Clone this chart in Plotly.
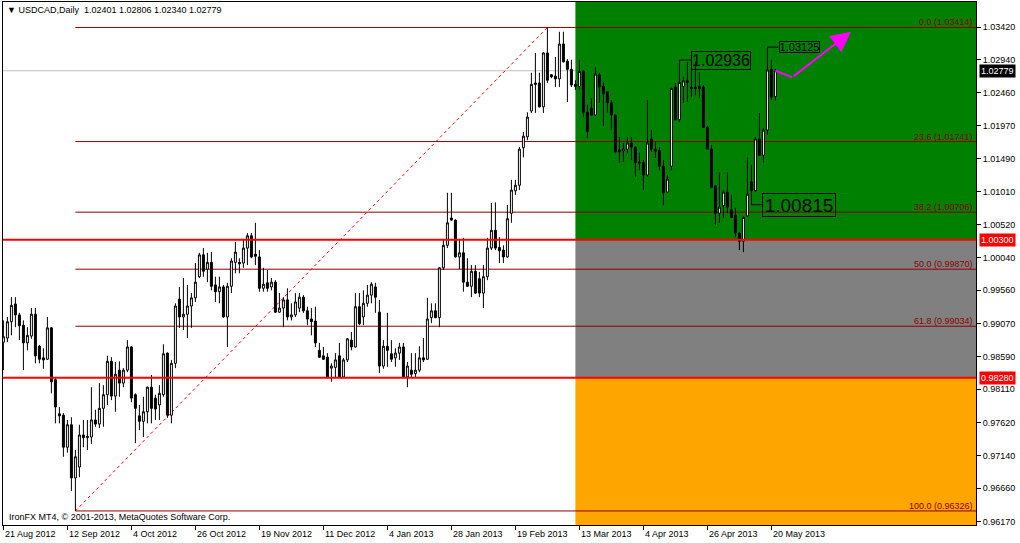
import plotly.graph_objects as go

# ---------------- data ----------------
open_ = [
    0.9880, 0.9886, 0.9910, 0.9936, 0.9920, 0.9905, 0.9879, 0.9889, 0.9921, 0.9874,
    0.9857, 0.9855, 0.9901, 0.9825, 0.9775, 0.9773, 0.9726, 0.9759, 0.9681, 0.9697,
    0.9744, 0.9740, 0.9741, 0.9766, 0.9760, 0.9783, 0.9803, 0.9852, 0.9801, 0.9839,
    0.9820, 0.9839, 0.9873, 0.9803, 0.9772, 0.9764, 0.9778, 0.9814, 0.9798, 0.9788,
    0.9803, 0.9864, 0.9773, 0.9849, 0.9943, 0.9917, 0.9921, 0.9933, 0.9945, 0.9976,
    1.0008, 0.9987, 0.9997, 0.9964, 0.9954, 0.9961, 0.9917, 0.9962, 0.9997, 0.9997,
    0.9996, 1.0018, 1.0036, 1.0009, 1.0005, 0.9959, 0.9967, 0.9961, 0.9968, 0.9924,
    0.9930, 0.9942, 0.9917, 0.9920, 0.9930, 0.9946, 0.9926, 0.9914, 0.9911, 0.9868,
    0.9860, 0.9858, 0.9842, 0.9843, 0.9860, 0.9829, 0.9854, 0.9883, 0.9873, 0.9932,
    0.9917, 0.9937, 0.9949, 0.9961, 0.9924, 0.9845, 0.9874, 0.9863, 0.9857, 0.9864,
    0.9873, 0.9829, 0.9839, 0.9834, 0.9839, 0.9857, 0.9855, 0.9916, 0.9926, 0.9916,
    0.9989, 1.0022, 1.0062, 1.0059, 1.0005, 1.0011, 0.9968, 0.9962, 0.9984, 0.9973,
    0.9952, 0.9976, 1.0018, 1.0044, 1.0019, 1.0015, 1.0005, 1.0069, 1.0102, 1.0110,
    1.0165, 1.0181, 1.0219, 1.0260, 1.0260, 1.0225, 1.0304, 1.0272, 1.0270, 1.0266,
    1.0317, 1.0292, 1.0280, 1.0258, 1.0255, 1.0277, 1.0217, 1.0223, 1.0213, 1.0272,
    1.0255, 1.0247, 1.0231, 1.0213, 1.0162, 1.0160, 1.0163, 1.0172, 1.0166, 1.0144,
    1.0143, 1.0125, 1.0178, 1.0163, 1.0161, 1.0138, 1.0100, 1.0138, 1.0254, 1.0206,
    1.0255, 1.0263, 1.0254, 1.0254, 1.0255, 1.0254, 1.0195, 1.0163, 1.0109, 1.0069,
    1.0080, 1.0100, 1.0074, 1.0066, 1.0040, 1.0028, 1.0065, 1.0115, 1.0102, 1.0178,
    1.0154, 1.0191, 1.0280, 1.02401,
]
high = [
    0.9912, 0.9917, 0.9946, 0.9946, 0.9923, 0.9912, 0.9902, 0.9930, 0.9930, 0.9876,
    0.9871, 0.9917, 0.9902, 0.9829, 0.9785, 0.9776, 0.9766, 0.9770, 0.9722, 0.9759,
    0.9766, 0.9766, 0.9814, 0.9781, 0.9820, 0.9817, 0.9860, 0.9858, 0.9851, 0.9852,
    0.9842, 0.9883, 0.9874, 0.9805, 0.9788, 0.9800, 0.9815, 0.9832, 0.9803, 0.9817,
    0.9877, 0.9865, 0.9854, 0.9937, 0.9961, 0.9974, 0.9964, 0.9952, 0.9996, 1.0011,
    1.0018, 1.0011, 1.0012, 0.9976, 0.9976, 0.9964, 0.9967, 1.0003, 1.0027, 1.0003,
    1.0030, 1.0040, 1.0040, 1.0055, 1.0015, 0.9989, 0.9986, 0.9974, 0.9971, 0.9952,
    0.9946, 0.9959, 0.9937, 0.9952, 0.9952, 0.9949, 0.9932, 0.9930, 0.9932, 0.9879,
    0.9873, 0.9864, 0.9849, 0.9864, 0.9879, 0.9857, 0.9886, 0.9895, 0.9952, 0.9952,
    0.9956, 0.9964, 0.9968, 0.9967, 0.9942, 0.9883, 0.9923, 0.9883, 0.9871, 0.9879,
    0.9879, 0.9851, 0.9864, 0.9864, 0.9874, 0.9886, 0.9945, 0.9937, 0.9937, 0.9990,
    1.0030, 1.0099, 1.0099, 1.0060, 1.0030, 1.0033, 1.0003, 0.9993, 0.9993, 0.9983,
    0.9993, 1.0033, 1.0084, 1.0085, 1.0034, 1.0022, 1.0081, 1.0118, 1.0118, 1.0166,
    1.0188, 1.0217, 1.0275, 1.0304, 1.0275, 1.0305, 1.0341, 1.0273, 1.0298, 1.0335,
    1.0335, 1.0295, 1.0294, 1.0264, 1.0294, 1.0279, 1.0228, 1.0238, 1.0283, 1.0275,
    1.0261, 1.0247, 1.0235, 1.0214, 1.0181, 1.0172, 1.0181, 1.0181, 1.0167, 1.0158,
    1.0147, 1.0235, 1.0191, 1.0173, 1.0166, 1.0147, 1.0125, 1.0253, 1.0260, 1.02936,
    1.0269, 1.0291, 1.0289, 1.0291, 1.0276, 1.0257, 1.0197, 1.0169, 1.0110, 1.0129,
    1.0103, 1.0129, 1.0096, 1.0077, 1.0041, 1.0064, 1.0151, 1.0140, 1.0181, 1.0216,
    1.0194, 1.03125, 1.0294, 1.02806,
]
low = [
    0.9839, 0.9880, 0.9890, 0.9902, 0.9883, 0.9839, 0.9868, 0.9885, 0.9849, 0.9849,
    0.9841, 0.9854, 0.9805, 0.9761, 0.9761, 0.9712, 0.9718, 0.9662, 0.96326, 0.9682,
    0.9726, 0.9722, 0.9731, 0.9756, 0.9754, 0.9756, 0.9788, 0.9795, 0.9778, 0.9800,
    0.9814, 0.9836, 0.9792, 0.9732, 0.9751, 0.9741, 0.9761, 0.9761, 0.9766, 0.9766,
    0.9800, 0.9769, 0.9761, 0.9842, 0.9901, 0.9898, 0.9886, 0.9901, 0.9939, 0.9974,
    0.9976, 0.9968, 0.9956, 0.9939, 0.9937, 0.9916, 0.9873, 0.9952, 0.9981, 0.9981,
    0.9989, 0.9993, 1.0003, 0.9993, 0.9954, 0.9954, 0.9954, 0.9956, 0.9923, 0.9923,
    0.9902, 0.9912, 0.9912, 0.9917, 0.9924, 0.9923, 0.9905, 0.9890, 0.9873, 0.9857,
    0.9854, 0.9827, 0.9822, 0.9829, 0.9828, 0.9828, 0.9851, 0.9868, 0.9872, 0.9905,
    0.9905, 0.9932, 0.9937, 0.9923, 0.9835, 0.9841, 0.9844, 0.9851, 0.9844, 0.9854,
    0.9828, 0.9814, 0.9829, 0.9829, 0.9836, 0.9851, 0.9854, 0.9908, 0.9915, 0.9902,
    0.9986, 1.0018, 1.0058, 1.0004, 0.9987, 0.9954, 0.9961, 0.9946, 0.9951, 0.9946,
    0.9930, 0.9971, 1.0015, 1.0015, 0.9996, 0.9996, 1.0004, 1.0055, 1.0096, 1.0103,
    1.0151, 1.0176, 1.0216, 1.0216, 1.0224, 1.0216, 1.0260, 1.0267, 1.0254, 1.0254,
    1.0290, 1.0232, 1.0254, 1.0250, 1.0250, 1.0210, 1.0179, 1.0212, 1.0212, 1.0231,
    1.0197, 1.0217, 1.0191, 1.0157, 1.0143, 1.0144, 1.0157, 1.0147, 1.0122, 1.0132,
    1.0103, 1.0122, 1.0159, 1.0150, 1.0132, 1.0081, 1.0099, 1.0132, 1.0205, 1.0203,
    1.0231, 1.0232, 1.0239, 1.0242, 1.0238, 1.0194, 1.0162, 1.0106, 1.0052, 1.0055,
    1.0062, 1.0069, 1.0062, 1.0034, 1.0015, 1.0012, 1.0064, 1.0101, 1.0101, 1.0153,
    1.0143, 1.0184, 1.0235, 1.02340,
]
close = [
    0.9888, 0.9910, 0.9934, 0.9920, 0.9904, 0.9879, 0.9890, 0.9921, 0.9860, 0.9855,
    0.9854, 0.9901, 0.9822, 0.9785, 0.9772, 0.9726, 0.9759, 0.9681, 0.9712, 0.9744,
    0.9740, 0.9742, 0.9766, 0.9760, 0.9783, 0.9803, 0.9852, 0.9801, 0.9833, 0.9820,
    0.9839, 0.9873, 0.9798, 0.9783, 0.9764, 0.9778, 0.9814, 0.9783, 0.9782, 0.9805,
    0.9863, 0.9773, 0.9849, 0.9933, 0.9917, 0.9921, 0.9933, 0.9945, 0.9968, 1.0008,
    0.9984, 0.9997, 0.9962, 0.9954, 0.9961, 0.9917, 0.9962, 0.9999, 1.0012, 0.9995,
    1.0018, 1.0036, 1.0005, 1.0006, 0.9959, 0.9965, 0.9959, 0.9968, 0.9924, 0.9930,
    0.9942, 0.9917, 0.9920, 0.9939, 0.9946, 0.9926, 0.9914, 0.9910, 0.9879, 0.9858,
    0.9855, 0.9829, 0.9845, 0.9854, 0.9829, 0.9854, 0.9885, 0.9873, 0.9932, 0.9907,
    0.9937, 0.9949, 0.9965, 0.9946, 0.9845, 0.9874, 0.9868, 0.9855, 0.9864, 0.9873,
    0.9829, 0.9845, 0.9833, 0.9839, 0.9857, 0.9854, 0.9914, 0.9926, 0.9916, 0.9989,
    1.0022, 1.0055, 1.0059, 1.0005, 1.0011, 0.9968, 0.9962, 0.9984, 0.9952, 0.9952,
    0.9976, 1.0018, 1.0044, 1.0018, 1.0014, 1.0005, 1.0061, 1.0103, 1.0110, 1.0163,
    1.0182, 1.0210, 1.0258, 1.0258, 1.0225, 1.0304, 1.0264, 1.0269, 1.0266, 1.0317,
    1.0291, 1.0280, 1.0257, 1.0255, 1.0277, 1.0217, 1.0189, 1.0213, 1.0273, 1.0254,
    1.0244, 1.0231, 1.0213, 1.0159, 1.0159, 1.0163, 1.0172, 1.0166, 1.0143, 1.0143,
    1.0125, 1.0172, 1.0163, 1.0160, 1.0138, 1.0099, 1.0119, 1.0252, 1.0206, 1.0261,
    1.0263, 1.0261, 1.0252, 1.0252, 1.0252, 1.0195, 1.0163, 1.0107, 1.0069, 1.0078,
    1.0100, 1.0078, 1.0063, 1.0040, 1.0028, 1.0063, 1.0097, 1.0102, 1.0178, 1.0154,
    1.0191, 1.0279, 1.0239, 1.02779,
]
bar_index = list(range(len(close)))

date_labels = ["21 Aug 2012", "12 Sep 2012", "4 Oct 2012", "26 Oct 2012", "19 Nov 2012",
               "11 Dec 2012", "4 Jan 2013", "28 Jan 2013", "19 Feb 2013", "13 Mar 2013",
               "4 Apr 2013", "26 Apr 2013", "20 May 2013"]
bars_per_label = 16

price_ticks = [1.03420, 1.02940, 1.02460, 1.01970, 1.01490, 1.01010, 1.00520, 1.00040,
               0.99560, 0.99070, 0.98590, 0.98110, 0.97620, 0.97140, 0.96660, 0.96170]

fib_pct = ["0.0", "23.6", "38.2", "50.0", "61.8", "100.0"]
fib_price = [1.03414, 1.01741, 1.00706, 0.99870, 0.99034, 0.96326]
fib_start_bar = 18
fib_end_bar = 136

support_levels = [1.00300, 0.98280]
zone_start_bar = 143
marked_prices = [1.02936, 1.03125, 1.00815]
marked_bars = [169, 191, 187]
forecast_x = [193, 197.2, 211.9]
forecast_y = [1.02779, 1.02683, 1.03351]

# ---------------- figure ----------------
FONT = "Liberation Sans, Arial, sans-serif"
y_lo, y_hi = 0.96120, 1.03787
x_lo, x_hi = -0.1, 243.15
last = len(close) - 1

fig = go.Figure()
fig.add_trace(go.Candlestick(
    x=bar_index, open=open_, high=high, low=low, close=close,
    increasing=dict(line=dict(color="black", width=1), fillcolor="white"),
    decreasing=dict(line=dict(color="black", width=1), fillcolor="black"),
    whiskerwidth=0, hoverinfo="skip", showlegend=False,
))

shapes = []
# coloured zones
shapes.append(dict(type="rect", xref="x", yref="y", x0=zone_start_bar, x1=x_hi + 5,
                   y0=support_levels[0], y1=y_hi + 0.01, fillcolor="#008000",
                   line_width=0, layer="below"))
shapes.append(dict(type="rect", xref="x", yref="y", x0=zone_start_bar, x1=x_hi + 5,
                   y0=support_levels[1], y1=support_levels[0], fillcolor="#808080",
                   line_width=0, layer="below"))
shapes.append(dict(type="rect", xref="x", yref="y", x0=zone_start_bar, x1=x_hi + 5,
                   y0=y_lo - 0.01, y1=support_levels[1], fillcolor="#FFA500",
                   line_width=0, layer="below"))
# bid line
shapes.append(dict(type="line", xref="paper", yref="y", x0=0, x1=1,
                   y0=close[-1], y1=close[-1], line=dict(color="#C0C0C0", width=1),
                   layer="below"))
# fibo lines
for p in fib_price:
    shapes.append(dict(type="line", xref="x", yref="y", x0=fib_start_bar, x1=x_hi + 5,
                       y0=p, y1=p, line=dict(color="#8B0000", width=1), layer="below"))
# fibo trend line
shapes.append(dict(type="line", xref="x", yref="y", x0=fib_start_bar, x1=fib_end_bar,
                   y0=fib_price[-1], y1=fib_price[0],
                   line=dict(color="#FF0000", width=1, dash="dot"), layer="below"))
# support lines
for p in support_levels:
    shapes.append(dict(type="line", xref="paper", yref="y", x0=0, x1=1, y0=p, y1=p,
                       line=dict(color="#FF0000", width=2), layer="above"))
# connectors of price marks
box_left = [171.9, 193.8, 189.8]
for pr, b, bl in zip(marked_prices, marked_bars, box_left):
    shapes.append(dict(type="line", xref="x", yref="y", x0=b, x1=bl, y0=pr, y1=pr,
                       line=dict(color="black", width=1)))
shapes.append(dict(type="line", xref="x", yref="y", x0=marked_bars[2], x1=marked_bars[2],
                   y0=low[marked_bars[2]], y1=marked_prices[2],
                   line=dict(color="black", width=1)))
# forecast path first leg
shapes.append(dict(type="line", xref="x", yref="y", x0=forecast_x[0], x1=forecast_x[1],
                   y0=forecast_y[0], y1=forecast_y[1],
                   line=dict(color="#FF00FF", width=2)))

ann = []
# fib labels
for pct, p in zip(fib_pct, fib_price):
    ann.append(dict(xref="paper", yref="y", x=1, y=p, xanchor="right", yanchor="bottom",
                    text=f"{pct} ({p:.5f})", showarrow=False, xshift=-1, yshift=-2,
                    font=dict(family=FONT, size=9, color="#8B0000")))
# price-mark boxes
box_cfg = [(16, 58, 17, 179.4), (11, 39, 10, 198.9), (19, 72, 22, 199.0)]
for pr, (fs, w, h, xc) in zip(marked_prices, box_cfg):
    ann.append(dict(xref="x", yref="y", x=xc, y=pr, text=f"{pr:.5f}", showarrow=False,
                    font=dict(family=FONT, size=fs, color="black"),
                    bordercolor="black", borderwidth=1, borderpad=0, width=w, height=h,
                    xanchor="center", yanchor="middle"))
# forecast arrow
ann.append(dict(xref="x", yref="y", axref="x", ayref="y", x=forecast_x[2], y=forecast_y[2],
                ax=forecast_x[1], ay=forecast_y[1], text="", showarrow=True,
                arrowhead=2, arrowsize=2, arrowwidth=2, arrowcolor="#FF00FF"))
# axis price labels
for p, bg in [(close[-1], "black"), (support_levels[0], "#FF0000"), (support_levels[1], "#FF0000")]:
    ann.append(dict(xref="paper", yref="y", x=1.0031, y=p, xanchor="left", yanchor="middle",
                    text=f"{p:.5f}", showarrow=False, bgcolor=bg, borderpad=1,
                    font=dict(family=FONT, size=9, color="white")))
# date labels
for k, lab in enumerate(date_labels):
    ann.append(dict(xref="x", yref="paper", x=k * bars_per_label, y=0, xanchor="left",
                    yanchor="top", xshift=0, yshift=-2, text=lab, showarrow=False,
                    font=dict(family=FONT, size=9, color="black")))
# header & footer
ann.append(dict(xref="paper", yref="paper", x=0, y=1, xanchor="left", yanchor="top",
                xshift=2, yshift=-1, showarrow=False,
                text=f"▼ USDCAD,Daily  {open_[last]:.5f} {high[last]:.5f} {low[last]:.5f} {close[last]:.5f}",
                font=dict(family=FONT, size=9, color="black")))
ann.append(dict(xref="paper", yref="paper", x=0, y=0, xanchor="left", yanchor="bottom",
                xshift=4, yshift=1, showarrow=False,
                text="IronFX MT4, © 2001-2013, MetaQuotes Software Corp.",
                font=dict(family=FONT, size=9, color="black")))

fig.update_layout(
    width=1020, height=543,
    margin=dict(l=3, r=44, t=2, b=18),
    paper_bgcolor="white", plot_bgcolor="white",
    shapes=shapes, annotations=ann, showlegend=False, hovermode=False,
    font=dict(family=FONT, size=9, color="black"),
    xaxis=dict(range=[x_lo, x_hi], rangeslider=dict(visible=False), showgrid=False,
               zeroline=False, showline=True, mirror=True, linecolor="black", linewidth=1,
               tickmode="array", tickvals=[k * bars_per_label for k in range(len(date_labels))],
               ticks="outside", ticklen=4, tickcolor="black", showticklabels=False),
    yaxis=dict(range=[y_lo, y_hi], side="right", showgrid=False, zeroline=False,
               showline=True, mirror=True, linecolor="black", linewidth=1,
               tickmode="array", tickvals=price_ticks,
               ticktext=[f"{t:.5f}" for t in price_ticks],
               ticks="outside", ticklen=4, tickcolor="black",
               tickfont=dict(family=FONT, size=9, color="black")),
)

fig.write_html("out.html", config={"displayModeBar": False},
               post_script="document.body.style.margin='0';document.body.style.overflow='hidden';")
